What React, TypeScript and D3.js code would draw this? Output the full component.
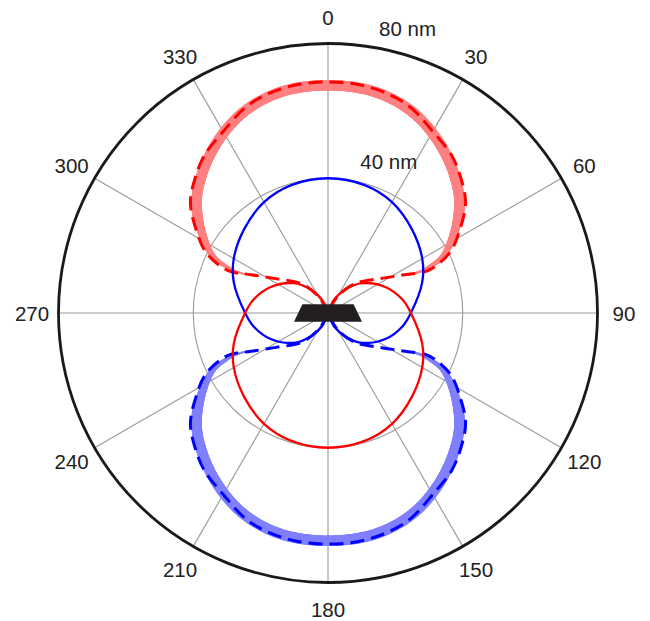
import { useEffect, useRef } from "react";
import * as d3 from "d3";

// polar axis
const angleTicks = [0, 30, 60, 90, 120, 150, 180, 210, 240, 270, 300, 330];
const radialTicks = [40, 80];
const radialLabels = ["40 nm", "80 nm"];

// [angle in degrees clockwise from top, radius in nm]
const redThick = [
  [-64, 25.5], [-65.8, 30], [-65.4, 33.5], [-63.9, 37.8], [-58.7, 43.3], [-50.5, 50.6],
  [-41.8, 55.9], [-32, 60.9], [-22.5, 64.8], [-12, 67.1], [0, 67.6], [12, 67.1],
  [22.5, 64.8], [32, 60.9], [41.8, 55.9], [50.5, 50.6], [58.7, 43.3], [63.9, 37.8],
  [65.4, 33.5], [65.8, 30], [64, 25.5],
];
const redDashed = [
  [-24, 0], [-28.6, 5], [-42, 11.6], [-56.5, 18.5], [-63.5, 25.5], [-67, 32.4],
  [-63.5, 40.5], [-57.5, 46.5], [-51.2, 52.4], [-44.2, 56.4], [-38, 59.5], [-30, 62.2],
  [-21.8, 65.8], [-15, 67.5], [-7.5, 68.4], [0, 68.6], [7.5, 68.4], [15, 67.5],
  [21.8, 65.8], [30, 62.2], [38, 59.5], [44.2, 56.4], [51.2, 52.4], [57.5, 46.5],
  [63.5, 40.5], [67, 32.4], [63.5, 25.5], [56.5, 18.5], [42, 11.6], [28.6, 5], [24, 0],
];
const redThin = [
  [0, 0], [25, 4.5], [37, 8.8], [49, 13.5], [66, 18.8], [80, 22.5], [90, 24.6],
  [108, 29.4], [120, 32.3], [135, 35.2], [150, 38], [164, 39.5], [180, 40],
  [196, 39.5], [210, 38], [225, 35.2], [240, 32.3], [252, 29.4], [270, 24.6],
  [280, 22.5], [294, 18.8], [311, 13.5], [323, 8.8], [335, 4.5], [360, 0],
];

const blueThick = [
  [244, 25.5], [245.8, 30], [245.4, 33.5], [243.9, 37.8], [238.7, 43.3], [230.5, 50.6],
  [221.8, 55.9], [212, 60.9], [202.5, 64.8], [192, 67.1], [180, 67.6], [168, 67.1],
  [157.5, 64.8], [148, 60.9], [138.2, 55.9], [129.5, 50.6], [121.3, 43.3], [116.1, 37.8],
  [114.6, 33.5], [114.2, 30], [116, 25.5],
];
const blueDashed = [
  [204, 0], [208.6, 5], [222, 11.6], [236.5, 18.5], [243.5, 25.5], [247, 32.4],
  [243.5, 40.5], [237.5, 46.5], [231.2, 52.4], [224.2, 56.4], [218, 59.5], [210, 62.2],
  [201.8, 65.8], [195, 67.5], [187.5, 68.4], [180, 68.6], [172.5, 68.4], [165, 67.5],
  [158.2, 65.8], [150, 62.2], [142, 59.5], [135.8, 56.4], [128.8, 52.4], [122.5, 46.5],
  [116.5, 40.5], [113, 32.4], [116.5, 25.5], [123.5, 18.5], [138, 11.6], [151.4, 5], [156, 0],
];
const blueThin = [
  [-180, 0], [-155, 4.5], [-143, 8.8], [-131, 13.5], [-114, 18.8], [-100, 22.5],
  [-90, 24.6], [-72, 29.4], [-60, 32.3], [-45, 35.2], [-30, 38], [-16, 39.5], [0, 40],
  [16, 39.5], [30, 38], [45, 35.2], [60, 32.3], [72, 29.4], [90, 24.6], [100, 22.5],
  [114, 18.8], [131, 13.5], [143, 8.8], [155, 4.5], [180, 0],
];

// particle outline, cartesian nm (x right, y up)
const particle = [[-7.6, 2.6], [7.6, 2.6], [10.1, -2.6], [-10.1, -2.6]];

const W = 650, H = 621;
const cx = 328, cy = 313;
const rScale = d3.scaleLinear().domain([0, 80]).range([0, 269.5]);
const rad = (deg: number) => (deg * Math.PI) / 180;

const radial = d3
  .lineRadial<number[]>()
  .angle((d) => rad(d[0]))
  .radius((d) => rScale(d[1]))
  .curve(d3.curveCatmullRom.alpha(0.5));

// thick line whose width tapers off towards both ends
function Band({ data, color }: { data: number[][]; color: string }) {
  const ref = useRef<SVGGElement>(null);
  useEffect(() => {
    const g = d3.select(ref.current);
    g.selectAll("*").remove();
    const guide = g.append("path").attr("d", radial(data)).attr("fill", "none");
    const node = guide.node() as SVGPathElement;
    const len = node.getTotalLength();
    const n = Math.ceil(len / 1.5);
    const pts = d3.range(n + 1).map((i) => node.getPointAtLength((len * i) / n));
    const taper = 90;
    for (let i = 0; i < n; i++) {
      const s = (len * (i + 0.5)) / n;
      const d = Math.min(s, len - s);
      const w = 1 + 9.5 * Math.min(1, d / taper);
      g.append("line")
        .attr("x1", pts[i].x).attr("y1", pts[i].y)
        .attr("x2", pts[i + 1].x).attr("y2", pts[i + 1].y)
        .attr("stroke", color)
        .attr("stroke-width", w)
        .attr("stroke-linecap", "round");
    }
    guide.remove();
  }, [data, color]);
  return <g ref={ref} />;
}

export default function App() {
  const rMax = rScale(80);
  const labelR = 296;
  const particlePath =
    "M" + particle.map((p) => `${rScale(p[0])},${-rScale(p[1])}`).join("L") + "Z";

  return (
    <svg
      width={W}
      height={H}
      style={{ position: "absolute", left: 0, top: 0, display: "block", background: "#fff" }}
      fontFamily="'Liberation Sans', Arial, Helvetica, sans-serif"
    >
      <g transform={`translate(${cx},${cy})`}>
        {angleTicks.map((a) => (
          <line
            key={"s" + a}
            x1={0}
            y1={0}
            x2={rMax * Math.sin(rad(a))}
            y2={-rMax * Math.cos(rad(a))}
            stroke="#999"
            strokeWidth={1.1}
          />
        ))}
        <circle r={rScale(radialTicks[0])} fill="none" stroke="#999" strokeWidth={1.1} />

        <Band data={redThick} color="#ff8080" />
        <Band data={blueThick} color="#8080ff" />

        <path d={radial(redDashed) || ""} fill="none" stroke="#ff0000" strokeWidth={3} strokeDasharray="14 7" />
        <path d={radial(blueDashed) || ""} fill="none" stroke="#0000ff" strokeWidth={3} strokeDasharray="14 7" />

        <path d={radial(blueThin) || ""} fill="none" stroke="#0000ff" strokeWidth={2.3} />
        <path d={radial(redThin) || ""} fill="none" stroke="#ff0000" strokeWidth={2.3} />

        <path d={particlePath} fill="#231f20" />

        <circle r={rMax} fill="none" stroke="#1a1a1a" strokeWidth={2.8} />

        {angleTicks.map((a) => (
          <text
            key={"t" + a}
            x={labelR * Math.sin(rad(a))}
            y={-labelR * Math.cos(rad(a))}
            textAnchor="middle"
            dominantBaseline="central"
            fontSize={20.5}
            fill="#222"
          >
            {a}
          </text>
        ))}
        {radialTicks.map((v, i) => (
          <text
            key={"r" + v}
            x={rScale(v) * Math.sin(rad(8)) + 42}
            y={-(rScale(v) * Math.cos(rad(8)) + 18)}
            textAnchor="middle"
            dominantBaseline="central"
            fontSize={20.5}
            fill="#222"
          >
            {radialLabels[i]}
          </text>
        ))}
      </g>
    </svg>
  );
}
